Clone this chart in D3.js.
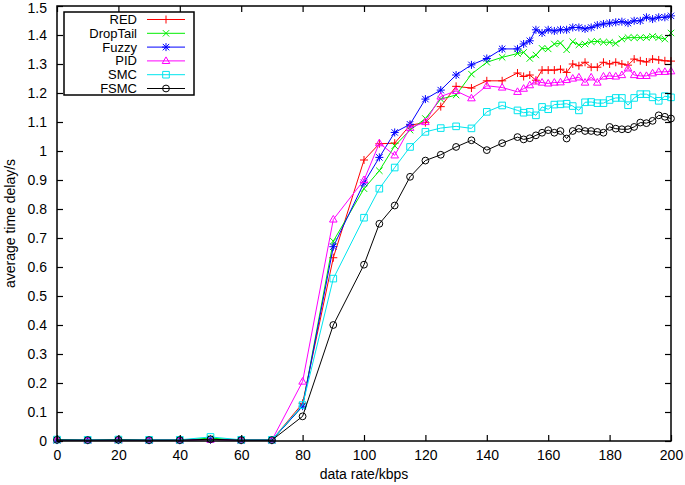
<!DOCTYPE html>
<html>
<head>
<meta charset="utf-8">
<script src="https://cdn.jsdelivr.net/npm/d3@7"></script>
<style>
  body { margin: 0; background: #fff; }
  text { font-family: "Liberation Sans", Arial, Helvetica, sans-serif; }
</style>
</head>
<body>
<svg id="chart" width="685" height="485"></svg>
<script>
// x values: data rate in kbps
let rates = [0, 10, 20, 30, 40, 50, 60, 70, 80, 90, 100, 105, 110, 115, 120, 125, 130, 135, 140, 145, 150,
  152, 154, 156, 158, 160, 162, 164, 166, 168, 170, 172, 174, 176, 178, 180,
  182, 184, 186, 188, 190, 192, 194, 196, 198, 200];

let red = [0.004, 0.003, 0.004, 0.003, 0.003, 0.005, 0.003, 0.003, 0.13, 0.632, 0.969, 1.025, 1.027, 1.089, 1.098, 1.153, 1.223, 1.217, 1.242, 1.242, 1.269,
  1.257, 1.262, 1.244, 1.279, 1.279, 1.279, 1.282, 1.271, 1.300, 1.294, 1.306, 1.289, 1.289, 1.306, 1.300,
  1.306, 1.300, 1.296, 1.317, 1.311, 1.307, 1.317, 1.314, 1.311, 1.310];

let dropTail = [0.003, 0.003, 0.003, 0.003, 0.003, 0.010, 0.003, 0.003, 0.12, 0.689, 0.87, 0.932, 1.018, 1.072, 1.112, 1.179, 1.193, 1.265, 1.306, 1.323, 1.336,
  1.340, 1.319, 1.331, 1.354, 1.352, 1.369, 1.372, 1.349, 1.377, 1.366, 1.369, 1.377, 1.378, 1.375, 1.375,
  1.371, 1.386, 1.391, 1.391, 1.391, 1.391, 1.395, 1.391, 1.386, 1.407];

let fuzzy = [0.003, 0.003, 0.003, 0.003, 0.003, 0.005, 0.003, 0.003, 0.12, 0.67, 0.89, 0.978, 1.064, 1.092, 1.179, 1.21, 1.262, 1.297, 1.319, 1.352, 1.352,
  1.369, 1.38, 1.418, 1.407, 1.418, 1.414, 1.418, 1.418, 1.426, 1.426, 1.421, 1.426, 1.434, 1.438, 1.441,
  1.444, 1.446, 1.441, 1.449, 1.449, 1.461, 1.455, 1.461, 1.461, 1.466];

let pid = [0.004, 0.003, 0.004, 0.003, 0.003, 0.005, 0.003, 0.003, 0.205, 0.764, 0.90, 1.027, 0.985, 1.08, 1.10, 1.188, 1.207, 1.182, 1.225, 1.219, 1.204,
  1.215, 1.227, 1.240, 1.236, 1.233, 1.236, 1.237, 1.245, 1.25, 1.254, 1.236, 1.254, 1.236, 1.257, 1.259,
  1.257, 1.262, 1.285, 1.262, 1.259, 1.259, 1.268, 1.273, 1.273, 1.275];

let smc = [0.005, 0.004, 0.005, 0.004, 0.004, 0.014, 0.004, 0.004, 0.124, 0.56, 0.77, 0.87, 0.943, 1.014, 1.066, 1.079, 1.085, 1.078, 1.135, 1.157, 1.14,
  1.132, 1.135, 1.123, 1.152, 1.144, 1.16, 1.161, 1.163, 1.155, 1.14, 1.168, 1.169, 1.165, 1.165, 1.176,
  1.183, 1.183, 1.158, 1.183, 1.196, 1.196, 1.185, 1.173, 1.189, 1.185];

let fsmc = [0.004, 0.003, 0.004, 0.003, 0.003, 0.006, 0.003, 0.003, 0.085, 0.40, 0.608, 0.749, 0.812, 0.911, 0.967, 0.987, 1.014, 1.037, 1.003, 1.027, 1.048,
  1.04, 1.044, 1.054, 1.063, 1.072, 1.063, 1.069, 1.043, 1.069, 1.077, 1.069, 1.069, 1.066, 1.063, 1.083,
  1.077, 1.075, 1.075, 1.083, 1.098, 1.096, 1.104, 1.123, 1.118, 1.112];

let names = ["RED", "DropTail", "Fuzzy", "PID", "SMC", "FSMC"];
let colors = ["#ff0000", "#00ee00", "#0000ff", "#ff00ff", "#00e5ee", "#000000"];
let shapes = ["plus", "times", "star", "triangle", "square", "circle"];
let xTicks = [0, 20, 40, 60, 80, 100, 120, 140, 160, 180, 200];
let yTicks = [0, 0.1, 0.2, 0.3, 0.4, 0.5, 0.6, 0.7, 0.8, 0.9, 1, 1.1, 1.2, 1.3, 1.4, 1.5];

let series = [red, dropTail, fuzzy, pid, smc, fsmc];

let svg = d3.select("#chart");
let mLeft = 57, mRight = 671, mTop = 6, mBottom = 441;

let x = d3.scaleLinear().domain([0, 200]).range([mLeft, mRight]);
let y = d3.scaleLinear().domain([0, 1.5]).range([mBottom, mTop]);

// gnuplot style point markers
function marker(shape) {
  let p = d3.path();
  if (shape == "plus" || shape == "star") {
    p.moveTo(-4, 0); p.lineTo(4, 0);
    p.moveTo(0, -4); p.lineTo(0, 4);
  }
  if (shape == "times" || shape == "star") {
    p.moveTo(-3.2, -3.2); p.lineTo(3.2, 3.2);
    p.moveTo(-3.2, 3.2); p.lineTo(3.2, -3.2);
  }
  if (shape == "triangle") {
    p.moveTo(0, -4); p.lineTo(3.8, 2.6); p.lineTo(-3.8, 2.6); p.closePath();
  }
  if (shape == "square") {
    p.rect(-3.3, -3.3, 6.6, 6.6);
  }
  if (shape == "circle") {
    p.moveTo(3.4, 0);
    p.arc(0, 0, 3.4, 0, 2 * Math.PI);
  }
  return p.toString();
}

let plot = svg.append("g");

let line = d3.line()
  .x(function (d) { return x(d[0]); })
  .y(function (d) { return y(d[1]); });

series.forEach(function (vals, i) {
  let pts = rates.map(function (r, j) { return [r, vals[j]]; });
  let g = plot.append("g");
  g.append("path")
    .datum(pts)
    .attr("d", line)
    .attr("fill", "none")
    .attr("stroke", colors[i])
    .attr("stroke-width", 1);
  g.selectAll("path.pt")
    .data(pts)
    .enter()
    .append("path")
    .attr("class", "pt")
    .attr("transform", function (d) { return "translate(" + x(d[0]) + "," + y(d[1]) + ")"; })
    .attr("d", marker(shapes[i]))
    .attr("fill", "none")
    .attr("stroke", colors[i])
    .attr("stroke-width", 1);
});

// axes with inward ticks, mirrored on top and right
let xAxis = svg.append("g")
  .attr("transform", "translate(0," + mBottom + ")")
  .call(d3.axisBottom(x).tickValues(xTicks).tickSizeInner(-6).tickSizeOuter(0).tickPadding(9).tickFormat(d3.format("d")));
let xAxisTop = svg.append("g")
  .attr("transform", "translate(0," + mTop + ")")
  .call(d3.axisTop(x).tickValues(xTicks).tickSizeInner(-6).tickSizeOuter(0).tickFormat(""));
let yAxis = svg.append("g")
  .attr("transform", "translate(" + mLeft + ",0)")
  .call(d3.axisLeft(y).tickValues(yTicks).tickSizeInner(-6).tickSizeOuter(0).tickPadding(10).tickFormat(function (d) { return String(+d.toFixed(1)); }));
let yAxisRight = svg.append("g")
  .attr("transform", "translate(" + mRight + ",0)")
  .call(d3.axisRight(y).tickValues(yTicks).tickSizeInner(-6).tickSizeOuter(0).tickFormat(""));

[xAxis, xAxisTop, yAxis, yAxisRight].forEach(function (a) {
  a.select(".domain").remove();
  a.selectAll(".tick line").attr("stroke", "#000").attr("stroke-width", 1.2);
  a.selectAll("text").attr("font-size", 14).attr("fill", "#000")
    .attr("font-family", '"Liberation Sans", Arial, sans-serif');
});

// keep the top label inside the picture
yAxis.selectAll(".tick text").filter(function (d) { return d == 1.5; }).attr("dy", "0.38em").attr("y", 1);

svg.append("rect")
  .attr("x", mLeft)
  .attr("y", mTop)
  .attr("width", mRight - mLeft)
  .attr("height", mBottom - mTop)
  .attr("fill", "none")
  .attr("stroke", "#000")
  .attr("stroke-width", 1.5);

svg.append("text")
  .attr("x", (mLeft + mRight) / 2)
  .attr("y", 479)
  .attr("text-anchor", "middle")
  .attr("font-size", 14)
  .text("data rate/kbps");

svg.append("text")
  .attr("transform", "translate(15," + (mTop + mBottom) / 2 + ") rotate(-90)")
  .attr("text-anchor", "middle")
  .attr("font-size", 14)
  .text("average time delay/s");

// legend
let legend = svg.append("g");
legend.append("rect")
  .attr("x", 64)
  .attr("y", 12)
  .attr("width", 130)
  .attr("height", 83)
  .attr("fill", "#fff")
  .attr("stroke", "#000")
  .attr("stroke-width", 1.5);

let item = legend.selectAll("g.item")
  .data(names)
  .enter()
  .append("g")
  .attr("class", "item")
  .attr("transform", function (d, i) { return "translate(0," + (19.5 + i * 13.8) + ")"; });

item.append("text")
  .attr("x", 137)
  .attr("y", 4.5)
  .attr("text-anchor", "end")
  .attr("font-size", 13)
  .text(function (d) { return d; });

item.append("line")
  .attr("x1", 147)
  .attr("x2", 185)
  .attr("stroke", function (d, i) { return colors[i]; })
  .attr("stroke-width", 1);

item.append("path")
  .attr("transform", "translate(166,0)")
  .attr("d", function (d, i) { return marker(shapes[i]); })
  .attr("fill", "none")
  .attr("stroke", function (d, i) { return colors[i]; });
</script>
</body>
</html>
